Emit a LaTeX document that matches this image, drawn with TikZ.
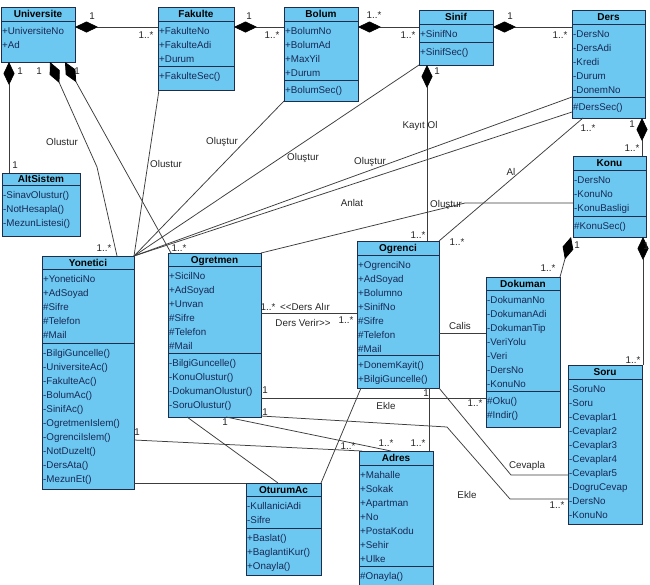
\documentclass[tikz,border=0pt]{standalone}
\usepackage{fontspec}
\setmainfont{Liberation Sans}
\usetikzlibrary{arrows.meta}
\definecolor{boxfill}{RGB}{108,200,240}
\definecolor{boxline}{RGB}{30,45,75}
\definecolor{txtc}{RGB}{25,40,85}
\definecolor{connc}{RGB}{60,60,60}
\tikzset{
 clsbox/.style={draw=boxline, fill=boxfill, line width=0.8pt, anchor=north west, inner sep=0pt, outer sep=0pt},
 clsline/.style={draw=boxline, line width=0.8pt},
 clstitle/.style={font=\fontsize{10}{14}\selectfont\bfseries, text=black, inner sep=0pt, text height=7pt, text depth=0pt},
 comptext/.style={anchor=north west, align=left, inner xsep=1pt, inner ysep=3pt, font=\fontsize{9.8}{14}\selectfont, text=txtc},
 lbl/.style={font=\fontsize{9.8}{14}\selectfont, text=black!85, inner sep=0pt, text height=7pt, text depth=0pt},
 conn/.style={draw=connc, line width=0.75pt},
 comp/.style={conn, {Diamond[length=23pt,width=11pt,color=black]}-},
}
\newcommand\ucls[7]{%
  \node[clsbox,minimum width=#4pt,minimum height=#5pt] (#1) at (#2,#3) {};
  \node[clstitle] (#1-t) at ([yshift=-#6pt/2]#1.north) {#7};
  \draw[clsline] ([yshift=-#6pt]#1.north west) -- ([yshift=-#6pt]#1.north east);
}
\newcommand\ucomp[4]{\node[comptext] (#1) at ([yshift=-#3pt]#2.north west) {\strut #4};}
\newcommand\usep[2]{\draw[clsline] ([yshift=-#2pt]#1.north west) -- ([yshift=-#2pt]#1.north east);}
\begin{document}
\begin{tikzpicture}[x=1pt,y=-1pt]
\useasboundingbox (0,0) rectangle (650,584);
\clip (0,0) rectangle (650,584);
\fill[white] (0,0) rectangle (650,584);

% ---------- classes ----------
\ucls{univ}{1}{7}{74}{55}{14}{Universite}
\ucomp{univ-a}{univ}{14}{+UniversiteNo\\+Ad}

\ucls{fak}{158}{7}{76}{83}{14}{Fakulte}
\ucomp{fak-a}{fak}{14}{+FakulteNo\\+FakulteAdi\\+Durum}
\usep{fak}{59}
\ucomp{fak-m}{fak}{59}{+FakulteSec()}

\ucls{bol}{284}{7}{74}{94}{14}{Bolum}
\ucomp{bol-a}{bol}{14}{+BolumNo\\+BolumAd\\+MaxYil\\+Durum}
\usep{bol}{73}
\ucomp{bol-m}{bol}{73}{+BolumSec()}

\ucls{sin}{419}{10}{74}{55}{14}{Sinif}
\ucomp{sin-a}{sin}{14}{+SinifNo}
\usep{sin}{32}
\ucomp{sin-m}{sin}{32}{+SinifSec()}

\ucls{ders}{572}{10}{73}{108}{14}{Ders}
\ucomp{ders-a}{ders}{14}{-DersNo\\-DersAdi\\-Kredi\\-Durum\\-DonemNo}
\usep{ders}{87}
\ucomp{ders-m}{ders}{87}{\#DersSec()}

\ucls{alt}{2}{173}{78}{63}{12}{AltSistem}
\ucomp{alt-m}{alt}{12}{-SinavOlustur()\\-NotHesapla()\\-MezunListesi()}

\ucls{yon}{42}{256}{92}{233}{13}{Yonetici}
\ucomp{yon-a}{yon}{13}{+YoneticiNo\\+AdSoyad\\\#Sifre\\\#Telefon\\\#Mail}
\usep{yon}{87}
\ucomp{yon-m}{yon}{87}{-BilgiGuncelle()\\-UniversiteAc()\\-FakulteAc()\\-BolumAc()\\-SinifAc()\\-OgretmenIslem()\\-OgrenciIslem()\\-NotDuzelt()\\-DersAta()\\-MezunEt()}

\ucls{ogt}{168}{253}{93}{164}{13}{Ogretmen}
\ucomp{ogt-a}{ogt}{13}{+SicilNo\\+AdSoyad\\+Unvan\\\#Sifre\\\#Telefon\\\#Mail}
\usep{ogt}{100}
\ucomp{ogt-m}{ogt}{100}{-BilgiGuncelle()\\-KonuOlustur()\\-DokumanOlustur()\\-SoruOlustur()}

\ucls{ogr}{357}{241}{82}{147}{14}{Ogrenci}
\ucomp{ogr-a}{ogr}{14}{+OgrenciNo\\+AdSoyad\\+Bolumno\\+SinifNo\\\#Sifre\\\#Telefon\\\#Mail}
\usep{ogr}{114}
\ucomp{ogr-m}{ogr}{114}{+DonemKayit()\\+BilgiGuncelle()}

\ucls{konu}{573}{156}{73}{81}{14}{Konu}
\ucomp{konu-a}{konu}{14}{-DersNo\\-KonuNo\\-KonuBasligi}
\usep{konu}{60}
\ucomp{konu-m}{konu}{60}{\#KonuSec()}

\ucls{dok}{486}{277}{74}{150}{13}{Dokuman}
\ucomp{dok-a}{dok}{13}{-DokumanNo\\-DokumanAdi\\-DokumanTip\\-VeriYolu\\-Veri\\-DersNo\\-KonuNo}
\usep{dok}{114}
\ucomp{dok-m}{dok}{114}{\#Oku()\\\#Indir()}

\ucls{soru}{568}{365}{74}{159}{14}{Soru}
\ucomp{soru-a}{soru}{14}{-SoruNo\\-Soru\\-Cevaplar1\\-Cevaplar2\\-Cevaplar3\\-Cevaplar4\\-Cevaplar5\\-DogruCevap\\-DersNo\\-KonuNo}

\ucls{otu}{246}{483}{75}{92}{13}{OturumAc}
\ucomp{otu-a}{otu}{13}{-KullaniciAdi\\-Sifre}
\usep{otu}{45}
\ucomp{otu-m}{otu}{45}{+Baslat()\\+BaglantiKur()\\+Onayla()}

\ucls{adr}{359}{451}{74}{137}{14}{Adres}
\ucomp{adr-a}{adr}{14}{+Mahalle\\+Sokak\\+Apartman\\+No\\+PostaKodu\\+Sehir\\+Ulke}
\usep{adr}{115}
\ucomp{adr-m}{adr}{115}{\#Onayla()}

% ---------- connectors ----------
\draw[comp] ([yshift=-20pt]univ.north east) -- ([yshift=-20pt]fak.north west);
\draw[comp] ([yshift=-20pt]fak.north east) -- ([yshift=-20pt]bol.north west);
\draw[comp] ([yshift=-20pt]bol.north east) -- ([yshift=-17pt]sin.north west);
\draw[comp] ([yshift=-17pt]sin.north east) -- ([yshift=-17pt]ders.north west);
\draw[comp] ([xshift=8pt]univ.south west) -- ([xshift=7pt]alt.north west);
\coordinate (bF) at (97,167);
\draw[comp] ([xshift=49pt]univ.south west) -- (bF) -- ([xshift=75pt]yon.north west);
\draw[comp] ([xshift=64pt]univ.south west) -- ([xshift=3pt]ogt.north west);
\draw[conn] ([xshift=1pt]fak.south west) -- (yon.north east);
\draw[conn] (bol.south west) -- (yon.north east);
\draw[conn] (sin.south west) -- (yon.north east);
\draw[conn] ([yshift=-87pt]ders.north west) -- (yon.north east);
\draw[conn] ([yshift=-102pt]ders.north west) -- (yon.north east);
\coordinate (bK) at (465,203);
\draw[conn] ([yshift=-47pt]konu.north west) -- (bK) -- (ogt.north east);
\draw[conn] ([xshift=11pt]ders.south west) -- (ogr.north east);
\draw[comp] ([xshift=-3pt]ders.south east) -- ([xshift=-4pt]konu.north east);
\draw[comp] ([xshift=8pt]sin.south west) -- ([xshift=70pt]ogr.north west);
\draw[comp] ([xshift=-2pt]konu.south west) -- (dok.north east);
\draw[comp] ([xshift=-3pt]konu.south east) -- ([xshift=1pt]soru.north east);
\draw[conn] ([yshift=-60pt]ogt.north east) -- ([yshift=-72pt]ogr.north west);
\draw[conn] ([yshift=-145pt]ogt.north east) -- ([yshift=-121pt]dok.north west);
\draw[conn] ([xshift=72pt]ogr.south west) -- ([xshift=70pt]adr.north west);
\draw[conn] ([xshift=58pt]ogt.south west) -- ([xshift=32pt]adr.north west);
\draw[conn] ([yshift=-184pt]yon.north east) -- ([xshift=3pt]adr.north west);
\draw[conn] (otu.north west) -- (otu.north west -| yon.east);
\draw[conn] ([xshift=19pt]ogt.south west) -- ([xshift=32pt]otu.north west);
\draw[conn] ([xshift=4pt]ogr.south west) -- (otu.north east);
\draw[conn] ([yshift=-92pt]ogr.north east) -- ([yshift=-56pt]dok.north west);
\coordinate (bC) at (511,475);
\draw[conn] (ogr.south east) -- (bC) -- ([yshift=-110pt]soru.north west);
\coordinate (bE1) at (447,427);
\coordinate (bE2) at (510,499);
\draw[conn] ([yshift=1pt]ogt.south east) -- (bE1) -- (bE2) -- ([yshift=-134pt]soru.north west);

% ---------- labels ----------
\node[lbl] (m1) at (92,16) {1};
\node[lbl] (m2) at (146,35) {1..*};
\node[lbl] (m3) at (249,16) {1};
\node[lbl] (m4) at (272,35) {1..*};
\node[lbl] (m5) at (374,15) {1..*};
\node[lbl] (m6) at (408,35) {1..*};
\node[lbl] (m7) at (510,16) {1};
\node[lbl] (m8) at (560,35) {1..*};
\node[lbl] (m9) at (20,71) {1};
\node[lbl] (m10) at (39,71) {1};
\node[lbl] (m11) at (77,71) {1};
\node[lbl] (m12) at (15,165) {1};
\node[lbl] (m13) at (62,142) {Olustur};
\node[lbl] (m14) at (104,248) {1..*};
\node[lbl] (m15) at (179,248) {1..*};
\node[lbl] (m16) at (166,164) {Olustur};
\node[lbl] (m17) at (222,141) {Oluştur};
\node[lbl] (m18) at (303,157) {Oluştur};
\node[lbl] (m19) at (370,161) {Oluştur};
\node[lbl] (m20) at (352,203) {Anlat};
\node[lbl] (m21) at (446,204) {Oluştur};
\node[lbl] (m22) at (420,125) {Kayıt Ol};
\node[lbl] (m23) at (437,71) {1};
\node[lbl] (m24) at (418,235) {1..*};
\node[lbl] (m25) at (588,128) {1..*};
\node[lbl] (m26) at (632,124) {1};
\node[lbl] (m27) at (632,148) {1..*};
\node[lbl] (m28) at (511,172) {Al};
\node[lbl] (m29) at (457,242) {1..*};
\node[lbl] (m30) at (577,245) {1};
\node[lbl] (m31) at (548,268) {1..*};
\node[lbl] (m32) at (646,246) {1};
\node[lbl] (m33) at (633,360) {1..*};
\node[lbl] (m34) at (268,307) {1..*};
\node[lbl] (m35) at (305,307) {<{}<Ders Alır};
\node[lbl] (m36) at (303,323) {Ders Verir>{}>};
\node[lbl] (m37) at (346,320) {1..*};
\node[lbl] (m38) at (460,326) {Calis};
\node[lbl] (m39) at (265,390) {1};
\node[lbl] (m40) at (386,406) {Ekle};
\node[lbl] (m41) at (475,403) {1..*};
\node[lbl] (m42) at (265,412) {1};
\node[lbl] (m43) at (426,393) {1};
\node[lbl] (m44) at (225,422) {1};
\node[lbl] (m45) at (386,443) {1..*};
\node[lbl] (m46) at (418,443) {1..*};
\node[lbl] (m47) at (348,446) {1..*};
\node[lbl] (m48) at (137,432) {1};
\node[lbl] (m49) at (527,465) {Cevapla};
\node[lbl] (m50) at (467,495) {Ekle};
\node[lbl] (m51) at (557,505) {1..*};
\end{tikzpicture}
\end{document}
